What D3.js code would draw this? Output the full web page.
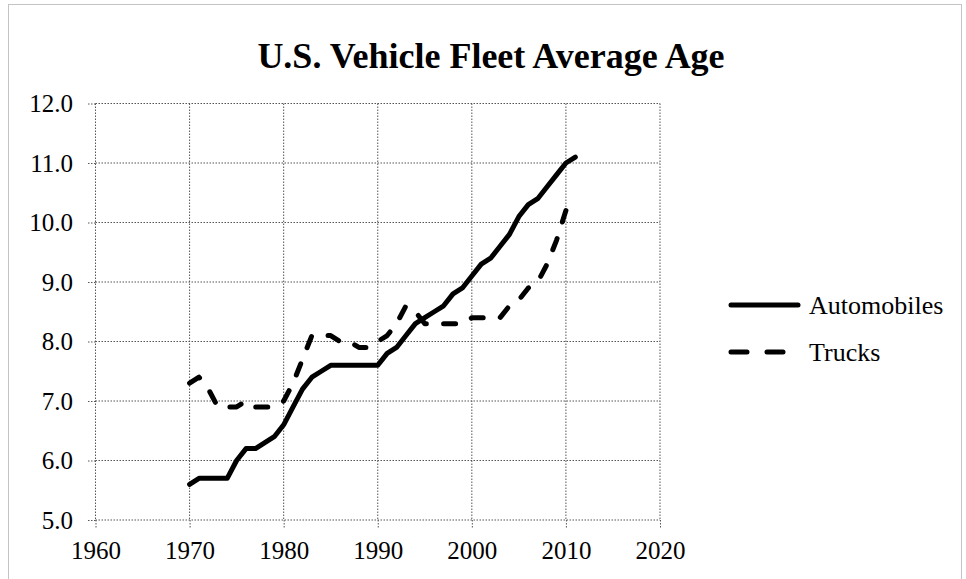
<!DOCTYPE html>
<html>
<head>
<meta charset="utf-8">
<script src="https://cdnjs.cloudflare.com/ajax/libs/d3/7.8.5/d3.min.js"></script>
<style>
  body { margin: 0; background: #fff; }
</style>
</head>
<body>
<div id="my_dataviz"></div>
<script>
// Data
var years = [1970, 1971, 1972, 1973, 1974, 1975, 1976, 1977, 1978, 1979,
  1980, 1981, 1982, 1983, 1984, 1985, 1986, 1987, 1988, 1989,
  1990, 1991, 1992, 1993, 1994, 1995, 1996, 1997, 1998, 1999,
  2000, 2001, 2002, 2003, 2004, 2005, 2006, 2007, 2008, 2009, 2010, 2011]
var automobiles = [5.6, 5.7, 5.7, 5.7, 5.7, 6.0, 6.2, 6.2, 6.3, 6.4,
  6.6, 6.9, 7.2, 7.4, 7.5, 7.6, 7.6, 7.6, 7.6, 7.6,
  7.6, 7.8, 7.9, 8.1, 8.3, 8.4, 8.5, 8.6, 8.8, 8.9,
  9.1, 9.3, 9.4, 9.6, 9.8, 10.1, 10.3, 10.4, 10.6, 10.8, 11.0, 11.1]
var trucks = [7.3, 7.4, 7.2, 6.9, 6.9, 6.9, 7.0, 6.9, 6.9, 6.9,
  7.0, 7.3, 7.7, 8.1, 8.1, 8.1, 8.0, 8.0, 7.9, 7.9,
  8.0, 8.1, 8.3, 8.6, 8.5, 8.3, 8.3, 8.3, 8.3, 8.3,
  8.4, 8.4, 8.4, 8.4, 8.6, 8.7, 8.9, 9.0, 9.3, 9.7, 10.2]
var xTicks = [1960, 1970, 1980, 1990, 2000, 2010, 2020]
var yTicks = [5, 6, 7, 8, 9, 10, 11, 12]
var seriesNames = ["Automobiles", "Trucks"]

var serif = "'Liberation Serif', 'Times New Roman', Times, serif"

// Размеры
var margin = { top: 103.5, right: 306, bottom: 59, left: 95.5 },
  width = 966 - margin.left - margin.right,
  height = 579 - margin.top - margin.bottom;

var root = d3.select("#my_dataviz")
  .append("svg")
  .attr("width", 966)
  .attr("height", 579)
  .style("font-family", serif)

// внешняя рамка
root.append("rect")
  .attr("x", 8.5)
  .attr("y", 4.5)
  .attr("width", 953)
  .attr("height", 600)
  .attr("fill", "none")
  .attr("stroke", "#888")
  .attr("stroke-dasharray", "1,1")

// заголовок
root.append("text")
  .attr("x", 491)
  .attr("y", 68)
  .attr("text-anchor", "middle")
  .style("font-size", "36px")
  .style("font-weight", "bold")
  .text("U.S. Vehicle Fleet Average Age")

var svg = root.append("g")
  .attr("transform", "translate(" + margin.left + "," + margin.top + ")");

// Шкалы
var x = d3.scaleLinear()
  .domain([1960, 2020])
  .range([0, width]);
var y = d3.scaleLinear()
  .domain([5, 12])
  .range([height, 0]);

// сетка
svg.selectAll(".hgrid")
  .data(yTicks)
  .enter()
  .append("line")
  .attr("x1", 0)
  .attr("x2", width)
  .attr("y1", function(d) { return y(d) })
  .attr("y2", function(d) { return y(d) })
  .attr("stroke", "#555")
  .attr("stroke-dasharray", "1.5,1.5")
svg.selectAll(".vgrid")
  .data(xTicks)
  .enter()
  .append("line")
  .attr("y1", 0)
  .attr("y2", height)
  .attr("x1", function(d) { return x(d) })
  .attr("x2", function(d) { return x(d) })
  .attr("stroke", "#555")
  .attr("stroke-dasharray", "1.5,1.5")

// Оси
var xAxis = svg.append("g")
  .attr("transform", "translate(0," + height + ")")
  .call(d3.axisBottom(x).tickValues(xTicks).tickFormat(d3.format("d")).tickSize(8).tickPadding(13))
var yAxis = svg.append("g")
  .call(d3.axisLeft(y).tickValues(yTicks).tickFormat(d3.format(".1f")).tickSize(8).tickPadding(14.5))

;[xAxis, yAxis].forEach(function(a) {
  a.attr("font-family", serif)
  a.select(".domain").remove()
  a.selectAll(".tick line")
    .attr("stroke", "#555")
    .attr("stroke-dasharray", "1.5,1.5")
  a.selectAll(".tick text")
    .style("font-size", "25px")
    .attr("fill", "#000")
})

// Линии
var line = d3.line()
  .x(function(d) { return x(d[0]) })
  .y(function(d) { return y(d[1]) })

var autoData = years.map(function(yr, i) { return [yr, automobiles[i]] })
var truckData = trucks.map(function(v, i) { return [years[i], v] })

svg.append("path")
  .datum(autoData)
  .attr("d", line)
  .attr("fill", "none")
  .attr("stroke", "#000")
  .attr("stroke-width", 5)
  .attr("stroke-linejoin", "round")
  .attr("stroke-linecap", "round")

var truckPath = svg.append("path")
  .datum(truckData)
  .attr("d", line)
  .attr("fill", "none")
  .attr("stroke", "#000")
  .attr("stroke-width", 5)
  .attr("stroke-linejoin", "round")
  .attr("stroke-linecap", "round")

// период штриха подгоняем, чтобы линия начиналась и кончалась штрихом
var dash = 12
var len = truckPath.node().getTotalLength()
var period = (len - dash) / Math.round((len - dash) / 30)
truckPath.attr("stroke-dasharray", dash + "," + (period - dash))

// Легенда
var legend = root.append("g")
var legendY = [305, 352]
legend.selectAll("line")
  .data(seriesNames)
  .enter()
  .append("line")
  .attr("x1", 731)
  .attr("x2", 798)
  .attr("y1", function(d, i) { return legendY[i] })
  .attr("y2", function(d, i) { return legendY[i] })
  .attr("stroke", "#000")
  .attr("stroke-width", 5)
  .attr("stroke-linecap", "round")
  .attr("stroke-dasharray", function(d, i) { return i == 1 ? "16,20" : null })
legend.selectAll("text")
  .data(seriesNames)
  .enter()
  .append("text")
  .attr("x", 809)
  .attr("y", function(d, i) { return legendY[i] + 9 })
  .style("font-size", "26px")
  .text(function(d) { return d })
</script>
</body>
</html>
